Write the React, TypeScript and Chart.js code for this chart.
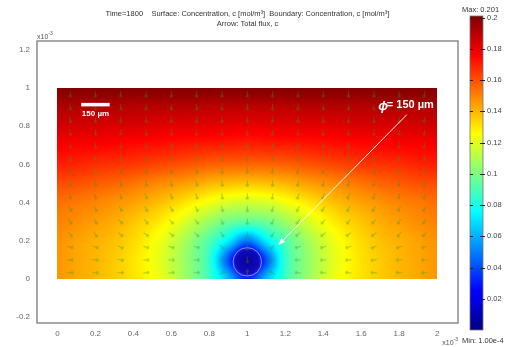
import React, { useEffect, useRef } from "react";
import { Chart, registerables } from "chart.js";
Chart.register(...registerables);

// ---- data (lengths in 1e-3 m, concentration in mol/m^3) ----
const xNodes = [0, 0.1, 0.2, 0.3, 0.4, 0.5, 0.6, 0.7, 0.8, 0.9, 1.0, 1.1, 1.2, 1.3, 1.4, 1.5, 1.6, 1.7, 1.8, 1.9, 2.0];
const yNodes = [0, 0.1, 0.2, 0.3, 0.4, 0.5, 0.6, 0.7, 0.8, 0.9, 1.0];

const concY00 = [0.146, 0.143, 0.140, 0.136, 0.131, 0.125, 0.115, 0.103, 0.087, 0.061, 0.032, 0.061, 0.087, 0.103, 0.115, 0.125, 0.131, 0.136, 0.140, 0.143, 0.146];
const concY01 = [0.146, 0.143, 0.140, 0.136, 0.131, 0.124, 0.114, 0.102, 0.085, 0.041, 0.004, 0.041, 0.085, 0.102, 0.114, 0.124, 0.131, 0.136, 0.140, 0.143, 0.146];
const concY02 = [0.147, 0.144, 0.141, 0.138, 0.133, 0.126, 0.117, 0.105, 0.091, 0.072, 0.049, 0.072, 0.091, 0.105, 0.117, 0.126, 0.133, 0.138, 0.141, 0.144, 0.147];
const concY03 = [0.150, 0.148, 0.145, 0.142, 0.137, 0.132, 0.125, 0.116, 0.106, 0.097, 0.094, 0.097, 0.106, 0.116, 0.125, 0.132, 0.137, 0.142, 0.145, 0.148, 0.150];
const concY04 = [0.154, 0.152, 0.150, 0.147, 0.144, 0.140, 0.135, 0.129, 0.123, 0.118, 0.116, 0.118, 0.123, 0.129, 0.135, 0.140, 0.144, 0.147, 0.150, 0.152, 0.154];
const concY05 = [0.161, 0.160, 0.158, 0.156, 0.153, 0.150, 0.147, 0.144, 0.140, 0.138, 0.137, 0.138, 0.140, 0.144, 0.147, 0.150, 0.153, 0.156, 0.158, 0.160, 0.161];
const concY06 = [0.170, 0.169, 0.167, 0.166, 0.165, 0.163, 0.161, 0.159, 0.157, 0.156, 0.156, 0.156, 0.157, 0.159, 0.161, 0.163, 0.165, 0.166, 0.167, 0.169, 0.170];
const concY07 = [0.177, 0.176, 0.176, 0.175, 0.174, 0.173, 0.172, 0.171, 0.170, 0.170, 0.169, 0.170, 0.170, 0.171, 0.172, 0.173, 0.174, 0.175, 0.176, 0.176, 0.177];
const concY08 = [0.185, 0.184, 0.184, 0.183, 0.183, 0.182, 0.181, 0.181, 0.181, 0.180, 0.180, 0.180, 0.181, 0.181, 0.181, 0.182, 0.183, 0.183, 0.184, 0.184, 0.185];
const concY09 = [0.192, 0.191, 0.191, 0.191, 0.190, 0.190, 0.190, 0.190, 0.189, 0.189, 0.189, 0.189, 0.189, 0.190, 0.190, 0.190, 0.190, 0.191, 0.191, 0.191, 0.192];
const concY10 = [0.200, 0.200, 0.200, 0.200, 0.200, 0.200, 0.200, 0.200, 0.200, 0.200, 0.200, 0.200, 0.200, 0.200, 0.200, 0.200, 0.200, 0.200, 0.200, 0.200, 0.200];
const concRows = [concY00, concY01, concY02, concY03, concY04, concY05, concY06, concY07, concY08, concY09, concY10];

const C_MIN = 0.0001;
const C_MAX = 0.201;

const xTickValues = [0, 0.2, 0.4, 0.6, 0.8, 1, 1.2, 1.4, 1.6, 1.8, 2];
const yTickValues = [-0.2, 0, 0.2, 0.4, 0.6, 0.8, 1, 1.2];
const cbTickValues = [0.02, 0.04, 0.06, 0.08, 0.1, 0.12, 0.14, 0.16, 0.18, 0.2];

const arrowXs = [0.067, 0.2, 0.333, 0.467, 0.6, 0.733, 0.867, 1.0, 1.133, 1.267, 1.4, 1.533, 1.667, 1.8, 1.933];
const arrowYs = [0.033, 0.1, 0.167, 0.233, 0.3, 0.367, 0.433, 0.5, 0.567, 0.633, 0.7, 0.767, 0.833, 0.9, 0.967];

const titleLines = [
  "Time=1800    Surface: Concentration, c [mol/m\u00B3]  Boundary: Concentration, c [mol/m\u00B3]",
  "Arrow: Total flux, c",
];
const maxLabel = "Max: 0.201";
const minLabel = "Min: 1.00e-4";

// sink geometry (diameter 150 um)
const sinkX = 1.0;
const sinkY = 0.09;
const sinkR = 0.075;

const FONT = "'Liberation Sans', Arial, 'DejaVu Sans', sans-serif";

function clamp(v: number, a: number, b: number) {
  return Math.max(a, Math.min(b, v));
}

function jet(t: number): [number, number, number] {
  t = clamp(t, 0, 1);
  const f = (v: number) => Math.round(255 * clamp(1.5 - Math.abs(v), 0, 1));
  return [f(4 * t - 3), f(4 * t - 2), f(4 * t - 1)];
}

function cubic(p0: number, p1: number, p2: number, p3: number, t: number) {
  return p1 + 0.5 * t * (p2 - p0 + t * (2 * p0 - 5 * p1 + 4 * p2 - p3 + t * (3 * (p1 - p2) + p3 - p0)));
}

function mirror(k: number, n: number) {
  if (k < 0) return -k;
  if (k > n - 1) return 2 * (n - 1) - k;
  return k;
}

function sampleConc(xv: number, yv: number) {
  const nx = xNodes.length, ny = yNodes.length;
  const dx = xNodes[1] - xNodes[0], dy = yNodes[1] - yNodes[0];
  const fx = clamp((xv - xNodes[0]) / dx, 0, nx - 1);
  const fy = clamp((yv - yNodes[0]) / dy, 0, ny - 1);
  const i = Math.min(Math.floor(fx), nx - 2);
  const j = Math.min(Math.floor(fy), ny - 2);
  const tx = fx - i, ty = fy - j;
  const vals: number[] = [];
  for (let m = -1; m <= 2; m++) {
    const jj = j + m;
    const r = jj > ny - 1 ? concRows[ny - 1] : concRows[mirror(jj, ny)];
    vals.push(cubic(r[mirror(i - 1, nx)], r[mirror(i, nx)], r[mirror(i + 1, nx)], r[mirror(i + 2, nx)], tx));
  }
  return clamp(cubic(vals[0], vals[1], vals[2], vals[3], ty), C_MIN, C_MAX);
}

function makeArrowImage() {
  const c = document.createElement("canvas");
  c.width = 9;
  c.height = 9;
  const g = c.getContext("2d")!;
  g.strokeStyle = "rgba(50,150,40,0.42)";
  g.lineWidth = 1.1;
  g.beginPath();
  g.moveTo(1.5, 4.5);
  g.lineTo(7.5, 4.5);
  g.moveTo(7.5, 4.5);
  g.lineTo(5.5, 3);
  g.moveTo(7.5, 4.5);
  g.lineTo(5.5, 6);
  g.stroke();
  return c;
}

const fieldPlugin = {
  id: "field",
  beforeDatasetsDraw(chart: any) {
    const { ctx, scales } = chart;
    const xs = scales.x, ys = scales.y;
    const px0 = Math.round(xs.getPixelForValue(0));
    const px1 = Math.round(xs.getPixelForValue(2));
    const py0 = Math.round(ys.getPixelForValue(1));
    const py1 = Math.round(ys.getPixelForValue(0));
    const w = px1 - px0, h = py1 - py0;
    const img = ctx.createImageData(w, h);
    for (let j = 0; j < h; j++) {
      const yv = ys.getValueForPixel(py0 + j + 0.5);
      for (let i = 0; i < w; i++) {
        const xv = xs.getValueForPixel(px0 + i + 0.5);
        const [r, g, b] = jet(sampleConc(xv, yv) / C_MAX);
        const k = (j * w + i) * 4;
        img.data[k] = r;
        img.data[k + 1] = g;
        img.data[k + 2] = b;
        img.data[k + 3] = 255;
      }
    }
    ctx.putImageData(img, px0, py0);
    // sink disk
    const cx = xs.getPixelForValue(sinkX), cy = ys.getPixelForValue(sinkY);
    const rr = xs.getPixelForValue(sinkX + sinkR) - cx;
    ctx.save();
    const grad = ctx.createRadialGradient(cx, cy, 0, cx, cy, rr);
    grad.addColorStop(0, "rgb(10,0,150)");
    grad.addColorStop(0.8, "rgb(15,10,190)");
    grad.addColorStop(1, "rgb(30,40,225)");
    ctx.fillStyle = grad;
    ctx.beginPath();
    ctx.arc(cx, cy, rr, 0, Math.PI * 2);
    ctx.fill();
    ctx.strokeStyle = "rgba(190,170,255,0.7)";
    ctx.lineWidth = 1;
    ctx.stroke();
    ctx.restore();
  },
  afterDatasetsDraw(chart: any) {
    const { ctx, scales } = chart;
    const xs = scales.x, ys = scales.y;
    const X = (v: number) => xs.getPixelForValue(v);
    const Y = (v: number) => ys.getPixelForValue(v);
    ctx.save();
    // scale bar
    ctx.strokeStyle = "#fff";
    ctx.lineWidth = 3.5;
    ctx.beginPath();
    ctx.moveTo(X(0.125), Y(0.913));
    ctx.lineTo(X(0.275), Y(0.913));
    ctx.stroke();
    ctx.fillStyle = "#fff";
    ctx.font = `bold 8px ${FONT}`;
    ctx.textAlign = "center";
    ctx.textBaseline = "middle";
    ctx.fillText("150 \u00B5m", X(0.2), Y(0.866));
    // diameter label
    ctx.textAlign = "left";
    ctx.font = `italic bold 13px ${FONT}`;
    ctx.fillText("\u03D5", X(1.69), Y(0.905));
    ctx.font = `bold 11px ${FONT}`;
    ctx.fillText("= 150 \u00B5m", X(1.735), Y(0.912));
    // pointer arrow
    const x1 = X(1.84), y1 = Y(0.86), x2 = X(1.165), y2 = Y(0.18);
    ctx.strokeStyle = "rgba(255,255,255,0.95)";
    ctx.lineWidth = 1;
    ctx.beginPath();
    ctx.moveTo(x1, y1);
    ctx.lineTo(x2, y2);
    ctx.stroke();
    const ang = Math.atan2(y2 - y1, x2 - x1);
    ctx.fillStyle = "#fff";
    ctx.beginPath();
    ctx.moveTo(x2, y2);
    ctx.lineTo(x2 - 7 * Math.cos(ang - 0.4), y2 - 7 * Math.sin(ang - 0.4));
    ctx.lineTo(x2 - 7 * Math.cos(ang + 0.4), y2 - 7 * Math.sin(ang + 0.4));
    ctx.closePath();
    ctx.fill();
    ctx.restore();
  },
  afterDraw(chart: any) {
    const { ctx, chartArea: a } = chart;
    ctx.save();
    ctx.strokeStyle = "#8c8c8c";
    ctx.lineWidth = 1.5;
    ctx.strokeRect(a.left, a.top, a.right - a.left, a.bottom - a.top);
    // title
    ctx.fillStyle = "#333";
    ctx.font = `7.5px ${FONT}`;
    ctx.textAlign = "center";
    ctx.textBaseline = "middle";
    const cx = (a.left + a.right) / 2;
    ctx.fillText(titleLines[0], cx, a.top - 27);
    ctx.fillText(titleLines[1], cx, a.top - 17);
    // x10^-3 labels
    ctx.fillStyle = "#555";
    const drawExp = (x: number, y: number, alignRight: boolean) => {
      ctx.font = `7px ${FONT}`;
      ctx.textAlign = "left";
      const w1 = ctx.measureText("x10").width;
      ctx.font = `5px ${FONT}`;
      const w2 = ctx.measureText("-3").width;
      const sx = alignRight ? x - w1 - w2 : x;
      ctx.font = `7px ${FONT}`;
      ctx.fillText("x10", sx, y);
      ctx.font = `5px ${FONT}`;
      ctx.fillText("-3", sx + w1, y - 3);
    };
    drawExp(a.left, a.top - 4, false);
    drawExp(a.right, a.bottom + 20, true);
    ctx.restore();
  },
};

const colorbarPlugin = {
  id: "colorbar",
  beforeDatasetsDraw(chart: any) {
    const { ctx, chartArea: a, scales } = chart;
    const ys = scales.y;
    const yb = ys.getPixelForValue(C_MIN), yt = ys.getPixelForValue(C_MAX);
    const g = ctx.createLinearGradient(0, yb, 0, yt);
    for (let k = 0; k <= 40; k++) {
      const t = k / 40;
      const v = C_MIN + t * (C_MAX - C_MIN);
      const [r, gg, b] = jet(v / C_MAX);
      g.addColorStop(t, `rgb(${r},${gg},${b})`);
    }
    ctx.save();
    ctx.fillStyle = g;
    ctx.fillRect(a.left, yt, a.right - a.left, yb - yt);
    ctx.strokeStyle = "#777";
    ctx.lineWidth = 0.8;
    ctx.strokeRect(a.left, yt, a.right - a.left, yb - yt);
    ctx.strokeStyle = "#222";
    ctx.lineWidth = 1;
    for (const v of cbTickValues) {
      const y = Math.round(ys.getPixelForValue(v)) + 0.5;
      ctx.beginPath();
      ctx.moveTo(a.left, y);
      ctx.lineTo(a.left + 3, y);
      ctx.moveTo(a.right - 3, y);
      ctx.lineTo(a.right + 2, y);
      ctx.stroke();
    }
    ctx.fillStyle = "#333";
    ctx.font = `7.5px ${FONT}`;
    ctx.textAlign = "left";
    ctx.textBaseline = "middle";
    ctx.fillText(maxLabel, 2, a.top - 6);
    ctx.fillText(minLabel, 2, a.bottom + 11);
    ctx.restore();
  },
};

export default function App() {
  const mainRef = useRef<HTMLCanvasElement>(null);
  const cbRef = useRef<HTMLCanvasElement>(null);

  useEffect(() => {
    const arrowImg = makeArrowImage();
    const arrowPoints: { x: number; y: number }[] = [];
    for (const y of arrowYs) for (const x of arrowXs) arrowPoints.push({ x, y });

    const fmt1 = (v: any) => String(Math.round(Number(v) * 10) / 10);
    const fmt2 = (v: any) => String(Math.round(Number(v) * 100) / 100);

    const main = new Chart(mainRef.current!, {
      type: "scatter",
      data: {
        datasets: [
          {
            data: arrowPoints,
            pointStyle: arrowImg as any,
            pointRadius: 3,
            rotation: (c: any) => {
              const p = c.raw;
              if (!p) return 90;
              const h = 0.02;
              const gx = (sampleConc(p.x + h, p.y) - sampleConc(p.x - h, p.y)) / (2 * h);
              const gy = (sampleConc(p.x, p.y + h) - sampleConc(p.x, Math.max(0, p.y - h))) / (p.y + h - Math.max(0, p.y - h));
              const fx = -gx, fy = -gy;
              if (Math.hypot(fx, fy) < 1e-3) return 90;
              return (Math.atan2(-fy, fx) * 180) / Math.PI;
            },
          } as any,
        ],
      },
      options: {
        animation: false,
        responsive: false,
        events: [],
        layout: { padding: { left: 0, right: 58, top: 41, bottom: 0 } },
        plugins: { legend: { display: false }, tooltip: { enabled: false }, title: { display: false } },
        scales: {
          x: {
            type: "linear",
            min: -0.108,
            max: 2.11,
            grid: { display: false, drawTicks: false },
            border: { display: false },
            afterBuildTicks: (s: any) => {
              s.ticks = xTickValues.map((v) => ({ value: v }));
            },
            afterFit: (s: any) => {
              s.height = 24;
            },
            ticks: { padding: 6, autoSkip: false, maxRotation: 0, color: "#666", font: { size: 8, family: FONT }, callback: fmt1 },
          },
          y: {
            type: "linear",
            min: -0.23,
            max: 1.246,
            grid: { display: false, drawTicks: false },
            border: { display: false },
            afterBuildTicks: (s: any) => {
              s.ticks = yTickValues.map((v) => ({ value: v }));
            },
            afterFit: (s: any) => {
              s.width = 37;
            },
            ticks: { padding: 7, autoSkip: false, color: "#666", font: { size: 8, family: FONT }, callback: fmt1 },
          },
        },
      } as any,
      plugins: [fieldPlugin],
    });

    const cb = new Chart(cbRef.current!, {
      type: "scatter",
      data: { datasets: [] },
      options: {
        animation: false,
        responsive: false,
        events: [],
        layout: { padding: { left: 10, right: 0, top: 16, bottom: 17 } },
        plugins: { legend: { display: false }, tooltip: { enabled: false } },
        scales: {
          x: { type: "linear", display: false, min: 0, max: 1 },
          y: {
            type: "linear",
            position: "right",
            min: C_MIN,
            max: C_MAX,
            grid: { display: false, drawTicks: false },
            border: { display: false },
            afterBuildTicks: (s: any) => {
              s.ticks = cbTickValues.map((v) => ({ value: v }));
            },
            afterFit: (s: any) => {
              s.width = 33;
            },
            ticks: { padding: 4, autoSkip: false, color: "#444", font: { size: 7.5, family: FONT }, callback: fmt2 },
          },
        },
      } as any,
      plugins: [colorbarPlugin],
    });

    return () => {
      main.destroy();
      cb.destroy();
    };
  }, []);

  return (
    <div style={{ position: "fixed", left: 0, top: 0, width: 516, height: 347, background: "#fff" }}>
      <canvas ref={mainRef} width={516} height={347} style={{ position: "absolute", left: 0, top: 0 }} />
      <canvas ref={cbRef} width={56} height={347} style={{ position: "absolute", left: 460, top: 0 }} />
    </div>
  );
}
